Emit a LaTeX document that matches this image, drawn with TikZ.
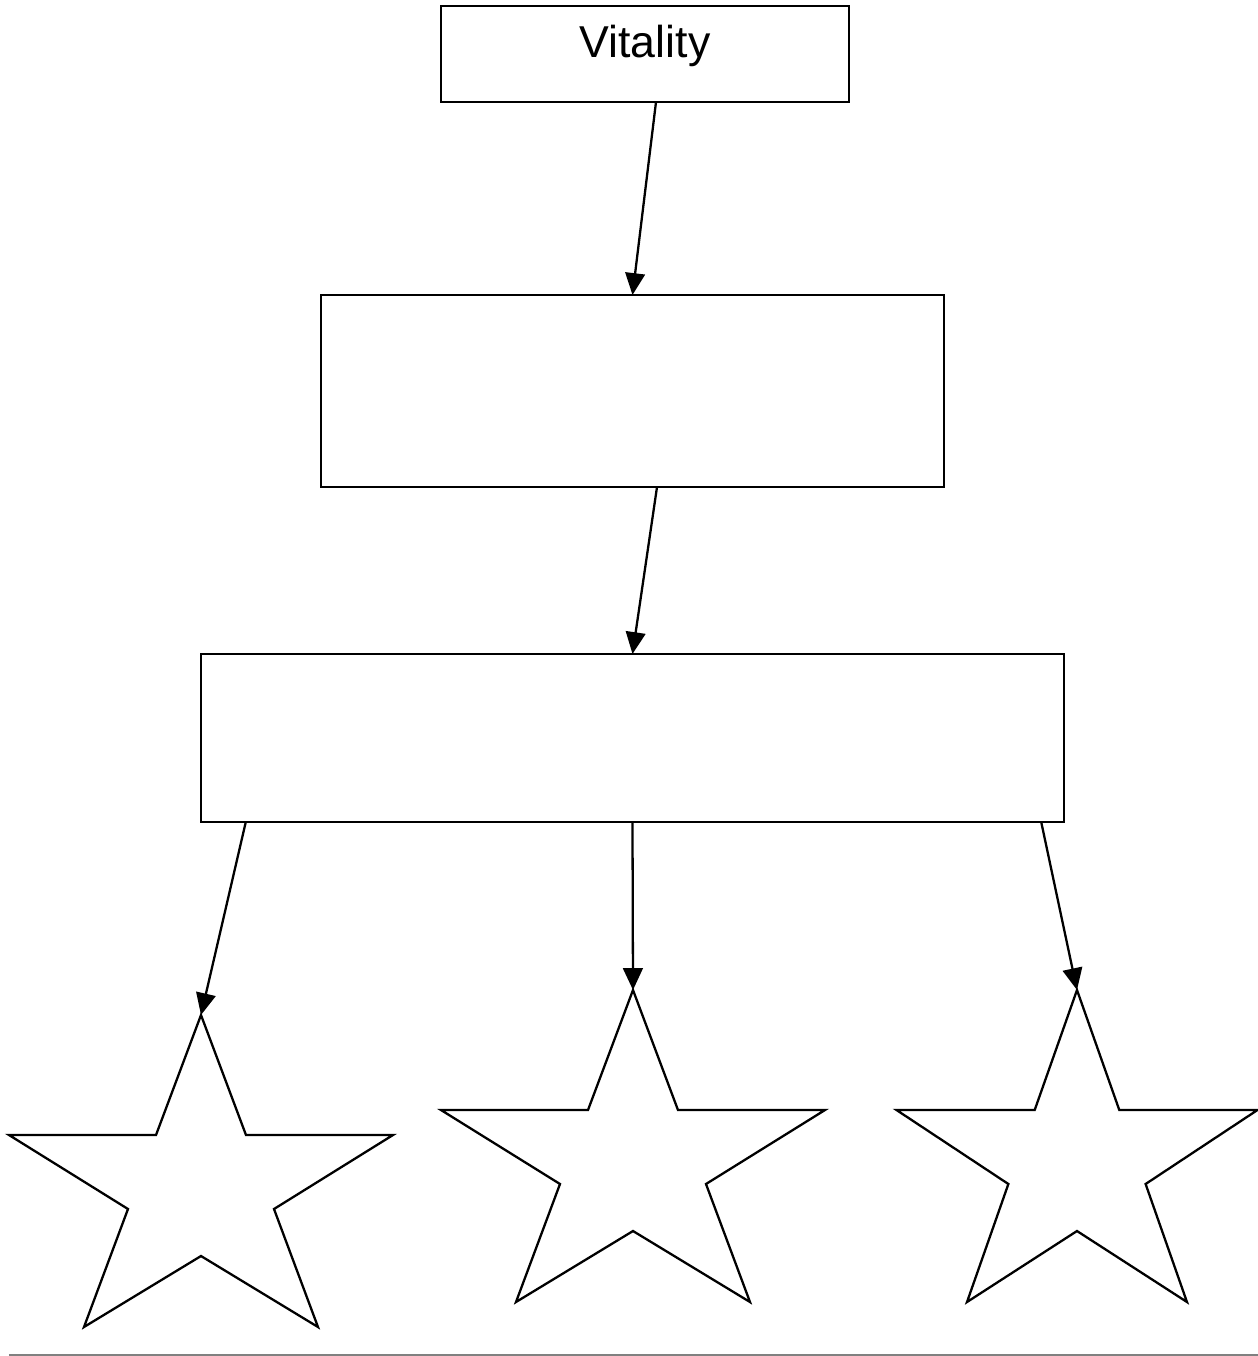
\documentclass[tikz,border=0pt]{standalone}
\usepackage{fontspec}
\setmainfont{Liberation Sans}
\usetikzlibrary{arrows.meta, positioning}
\tikzset{>={Triangle[length=6.2pt,width=5.6pt]}}
\tikzset{box/.style={draw, line width=0.65pt, inner sep=0pt, outer sep=0pt},
  link/.style={->, line width=0.65pt},
  starline/.style={line width=0.65pt, line join=miter}}

\begin{document}
\begin{tikzpicture}[x=0.01cm, y=0.01cm]
  \useasboundingbox (0,0) rectangle (1258,-1356);

  \node[box, minimum width=4.08cm, minimum height=0.96cm, text height=0.34cm, text depth=0.28cm,
        font=\fontsize{12.7}{15}\selectfont] (vital) at (645,-54) {Vitality};
  \node[box, minimum width=6.23cm, minimum height=1.92cm] (mid) at (632.5,-391) {};
  \node[box, minimum width=8.63cm, minimum height=1.68cm] (low) at (632.5,-738) {};

  % stars
  \foreach \nm/\px/\py/\xs in {s1/201/1015/1, s2/633/990/1, s3/1077/990/0.94} {
    \begin{scope}[shift={(\px,-\py)}, xscale=\xs]
      \coordinate (\nm) at (0,0);
      \draw[starline] (0,0) -- (45,-120) -- (192,-120) -- (73,-194) -- (117,-312)
        -- (0,-241) -- (-117,-312) -- (-73,-194) -- (-192,-120) -- (-45,-120) -- cycle;
    \end{scope}
  }

  \draw[link] ([xshift=0.11cm]vital.south) -- (mid.north);
  \draw[link] ([xshift=0.245cm]mid.south) -- (low.north);
  \draw[link] ([xshift=0.45cm]low.south west) -- (s1);
  \draw[link] (low.south) -- (s2);
  \draw[link] ([xshift=-0.23cm]low.south east) -- (s3);

  \draw[gray, line width=0.8pt] (9,-1355) -- (1258,-1355);
\end{tikzpicture}
\end{document}
